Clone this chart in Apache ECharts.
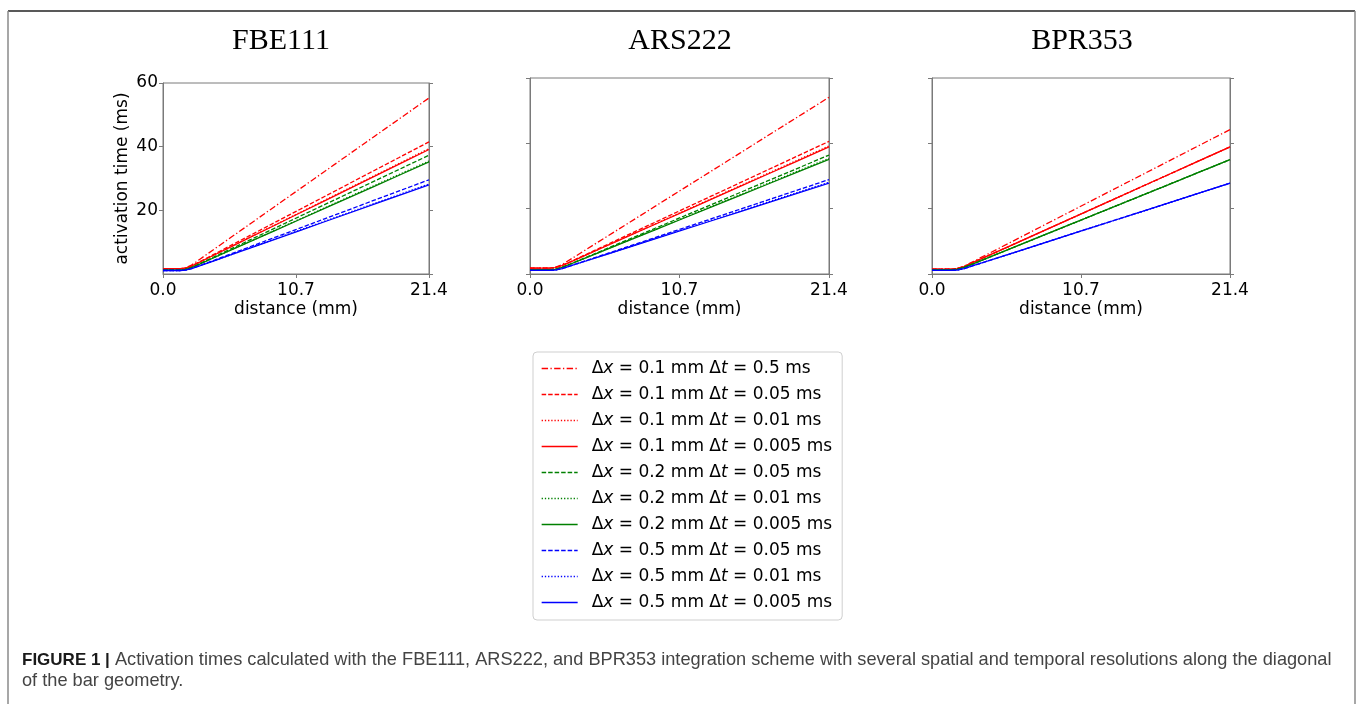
<!DOCTYPE html>
<html>
<head>
<meta charset="utf-8">
<script src="https://cdn.jsdelivr.net/npm/echarts@6/dist/echarts.min.js"></script>
<style>
html,body{margin:0;padding:0;background:#fff;}
#chart{width:1358px;height:704px;}
</style>
</head>
<body>
<div id="chart"></div>
<script>
// ---------- DATA ----------
const panelTitles = ['FBE111', 'ARS222', 'BPR353'];
const distance = [0, 1.4, 1.8, 2.3, 3.0, 4.0, 5.5, 7.0, 9.0, 11.0, 13.0, 15.0, 17.0, 19.0, 21.4];
const xTicks = [0, 10.7, 21.4];
const yTicks = [20, 40, 60];
const seriesNames = [
  'dx0.1_dt0.5', 'dx0.1_dt0.05', 'dx0.1_dt0.01', 'dx0.1_dt0.005',
  'dx0.2_dt0.05', 'dx0.2_dt0.01', 'dx0.2_dt0.005',
  'dx0.5_dt0.05', 'dx0.5_dt0.01', 'dx0.5_dt0.005'
];
const dxLabels = ['0.1', '0.1', '0.1', '0.1', '0.2', '0.2', '0.2', '0.5', '0.5', '0.5'];
const dtLabels = ['0.5', '0.05', '0.01', '0.005', '0.05', '0.01', '0.005', '0.05', '0.01', '0.005'];

// FBE111
const fbe_dx01_dt05   = [1.7, 1.7, 1.92, 2.81, 4.72, 7.47, 11.60, 15.72, 21.22, 26.72, 32.21, 37.71, 43.21, 48.71, 55.3];
const fbe_dx01_dt005  = [1.7, 1.7, 1.86, 2.53, 3.95, 5.99, 9.05, 12.11, 16.19, 20.27, 24.36, 28.44, 32.52, 36.60, 41.5];
const fbe_dx01_dt001  = [1.7, 1.7, 1.85, 2.48, 3.83, 5.76, 8.66, 11.56, 15.42, 19.29, 23.16, 27.02, 30.89, 34.75, 39.4];
const fbe_dx01_dt0005 = [1.7, 1.7, 1.85, 2.48, 3.81, 5.73, 8.60, 11.48, 15.32, 19.15, 22.99, 26.83, 30.66, 34.50, 39.1];
const fbe_dx02_dt005  = [1.3, 1.3, 1.45, 2.05, 3.33, 5.18, 7.95, 10.72, 14.41, 18.10, 21.79, 25.48, 29.17, 32.87, 37.3];
const fbe_dx02_dt001  = [1.3, 1.3, 1.44, 2.01, 3.23, 4.98, 7.61, 10.25, 13.75, 17.26, 20.77, 24.28, 27.79, 31.29, 35.5];
const fbe_dx02_dt0005 = [1.3, 1.3, 1.44, 2.00, 3.21, 4.95, 7.56, 10.16, 13.64, 17.12, 20.59, 24.07, 27.54, 31.02, 35.2];
const fbe_dx05_dt005  = [1.1, 1.1, 1.22, 1.69, 2.71, 4.17, 6.36, 8.56, 11.48, 14.40, 17.33, 20.25, 23.18, 26.10, 29.6];
const fbe_dx05_dt001  = [1.1, 1.1, 1.21, 1.67, 2.63, 4.03, 6.12, 8.21, 11.00, 13.79, 16.58, 19.37, 22.16, 24.95, 28.3];
const fbe_dx05_dt0005 = [1.1, 1.1, 1.21, 1.66, 2.62, 4.00, 6.06, 8.13, 10.89, 13.65, 16.41, 19.16, 21.92, 24.68, 28.0];

// ARS222
const ars_dx01_dt05   = [1.8, 1.8, 2.01, 2.89, 4.75, 7.43, 11.46, 15.48, 20.84, 26.21, 31.57, 36.93, 42.30, 47.66, 54.1];
const ars_dx01_dt005  = [1.8, 1.8, 1.96, 2.61, 3.99, 5.98, 8.96, 11.95, 15.93, 19.91, 23.89, 27.87, 31.85, 35.83, 40.6];
const ars_dx01_dt001  = [1.8, 1.8, 1.95, 2.58, 3.91, 5.83, 8.70, 11.58, 15.42, 19.25, 23.09, 26.93, 30.76, 34.60, 39.2];
const ars_dx01_dt0005 = [1.8, 1.8, 1.95, 2.57, 3.89, 5.80, 8.65, 11.51, 15.31, 19.12, 22.92, 26.73, 30.54, 34.34, 38.9];
const ars_dx02_dt005  = [1.3, 1.3, 1.44, 2.03, 3.28, 5.08, 7.78, 10.48, 14.08, 17.68, 21.28, 24.88, 28.48, 32.08, 36.4];
const ars_dx02_dt001  = [1.3, 1.3, 1.44, 2.01, 3.22, 4.97, 7.60, 10.22, 13.72, 17.22, 20.71, 24.21, 27.71, 31.21, 35.4];
const ars_dx02_dt0005 = [1.3, 1.3, 1.44, 2.00, 3.21, 4.94, 7.54, 10.14, 13.60, 17.07, 20.54, 24.00, 27.47, 30.93, 35.1];
const ars_dx05_dt005  = [1.1, 1.1, 1.21, 1.68, 2.67, 4.10, 6.23, 8.37, 11.22, 14.08, 16.93, 19.78, 22.63, 25.48, 28.9];
const ars_dx05_dt001  = [1.1, 1.1, 1.21, 1.66, 2.62, 4.01, 6.09, 8.16, 10.93, 13.70, 16.47, 19.24, 22.01, 24.78, 28.1];
const ars_dx05_dt0005 = [1.1, 1.1, 1.21, 1.65, 2.61, 3.98, 6.03, 8.08, 10.82, 13.56, 16.30, 19.03, 21.77, 24.51, 27.8];

// BPR353 (finer time steps coincide)
const bpr_dx01_dt05   = [1.5, 1.5, 1.68, 2.39, 3.91, 6.10, 9.38, 12.67, 17.05, 21.43, 25.81, 30.19, 34.57, 38.95, 44.2];
const bpr_dx01_dt005  = [1.5, 1.5, 1.65, 2.28, 3.61, 5.53, 8.40, 11.28, 15.12, 18.95, 22.79, 26.63, 30.46, 34.30, 38.9];
const bpr_dx01_dt001  = [1.5, 1.5, 1.65, 2.28, 3.61, 5.53, 8.40, 11.28, 15.12, 18.95, 22.79, 26.63, 30.46, 34.30, 38.9];
const bpr_dx01_dt0005 = [1.5, 1.5, 1.65, 2.28, 3.61, 5.53, 8.40, 11.28, 15.12, 18.95, 22.79, 26.63, 30.46, 34.30, 38.9];
const bpr_dx02_dt005  = [1.3, 1.3, 1.44, 2.00, 3.20, 4.93, 7.52, 10.11, 13.57, 17.02, 20.48, 23.94, 27.39, 30.85, 35.0];
const bpr_dx02_dt001  = [1.3, 1.3, 1.44, 2.00, 3.20, 4.93, 7.52, 10.11, 13.57, 17.02, 20.48, 23.94, 27.39, 30.85, 35.0];
const bpr_dx02_dt0005 = [1.3, 1.3, 1.44, 2.00, 3.20, 4.93, 7.52, 10.11, 13.57, 17.02, 20.48, 23.94, 27.39, 30.85, 35.0];
const bpr_dx05_dt005  = [1.1, 1.1, 1.21, 1.65, 2.61, 3.98, 6.03, 8.08, 10.82, 13.56, 16.30, 19.03, 21.77, 24.51, 27.8];
const bpr_dx05_dt001  = [1.1, 1.1, 1.21, 1.65, 2.61, 3.98, 6.03, 8.08, 10.82, 13.56, 16.30, 19.03, 21.77, 24.51, 27.8];
const bpr_dx05_dt0005 = [1.1, 1.1, 1.21, 1.65, 2.61, 3.98, 6.03, 8.08, 10.82, 13.56, 16.30, 19.03, 21.77, 24.51, 27.8];

const captionBold = 'FIGURE 1 |';
const captionText = ' Activation times calculated with the FBE111, ARS222, and BPR353 integration scheme with several spatial and temporal resolutions along the diagonal';
const captionText2 = 'of the bar geometry.';

// ---------- STYLE ----------
const panelData = [
  [fbe_dx01_dt05, fbe_dx01_dt005, fbe_dx01_dt001, fbe_dx01_dt0005, fbe_dx02_dt005, fbe_dx02_dt001, fbe_dx02_dt0005, fbe_dx05_dt005, fbe_dx05_dt001, fbe_dx05_dt0005],
  [ars_dx01_dt05, ars_dx01_dt005, ars_dx01_dt001, ars_dx01_dt0005, ars_dx02_dt005, ars_dx02_dt001, ars_dx02_dt0005, ars_dx05_dt005, ars_dx05_dt001, ars_dx05_dt0005],
  [bpr_dx01_dt05, bpr_dx01_dt005, bpr_dx01_dt001, bpr_dx01_dt0005, bpr_dx02_dt005, bpr_dx02_dt001, bpr_dx02_dt0005, bpr_dx05_dt005, bpr_dx05_dt001, bpr_dx05_dt0005]
];
const colors = ['#ff0000','#ff0000','#ff0000','#ff0000','#008000','#008000','#008000','#0000ff','#0000ff','#0000ff'];
const DASHDOT = [6.4, 2.4, 1.3, 2.4], DASHED = [4.5, 2], DOTTED = [1.3, 1.9];
const dashes = [DASHDOT, DASHED, DOTTED, 'solid', DASHED, DOTTED, 'solid', DASHED, DOTTED, 'solid'];

const grids = [
  {left: 163, top: 83, width: 266, height: 191},
  {left: 530, top: 78, width: 299, height: 196},
  {left: 932, top: 78, width: 298, height: 196}
];
const titleCenters = [281, 680, 1082];
const FONT = 'DejaVu Sans';
const AX = '#7a7a7a';

const option = {
  animation: false,
  backgroundColor: '#ffffff',
  title: panelTitles.map((t, i) => ({
    text: t,
    left: titleCenters[i],
    top: 26,
    textAlign: 'center',
    padding: 0,
    textStyle: {fontFamily: 'Liberation Serif', fontSize: 30, fontWeight: 'normal', color: '#000'}
  })),
  grid: grids.map(g => Object.assign({show: true, borderColor: AX, borderWidth: 1, backgroundColor: 'transparent'}, g)),
  xAxis: grids.map((g, i) => ({
    type: 'value', gridIndex: i, min: xTicks[0], max: xTicks[2], interval: xTicks[1] - xTicks[0],
    axisLine: {show: true, lineStyle: {color: AX, width: 1}},
    axisTick: {show: true, inside: false, length: 4, lineStyle: {color: AX}},
    splitLine: {show: false},
    axisLabel: {fontFamily: FONT, fontSize: 17, color: '#000', margin: 8, formatter: v => v.toFixed(1)},
    name: 'distance (mm)', nameLocation: 'middle', nameGap: 27,
    nameTextStyle: {fontFamily: FONT, fontSize: 17, color: '#000'}
  })),
  yAxis: [].concat(...grids.map((g, i) => [
    {
      type: 'value', gridIndex: i, min: 0, max: yTicks[2], interval: yTicks[0],
      position: 'left',
      axisLine: {show: true, lineStyle: {color: AX, width: 1}},
      axisTick: {show: true, inside: false, length: 4, lineStyle: {color: AX}},
      splitLine: {show: false},
      axisLabel: {show: i === 0, showMinLabel: false, fontFamily: FONT, fontSize: 17, color: '#000', margin: 5},
      name: i === 0 ? 'activation time (ms)' : '', nameLocation: 'middle', nameGap: 32,
      nameTextStyle: {fontFamily: FONT, fontSize: 17, color: '#000'}
    },
    {
      type: 'value', gridIndex: i, min: 0, max: yTicks[2], interval: yTicks[0],
      position: 'right',
      axisLine: {show: true, lineStyle: {color: AX, width: 1}},
      axisTick: {show: true, inside: false, length: 4, lineStyle: {color: AX}},
      splitLine: {show: false},
      axisLabel: {show: false}
    }
  ])),
  legend: {
    orient: 'vertical', left: 533, top: 352,
    padding: [8, 10, 9, 8],
    itemWidth: 36, itemHeight: 16, itemGap: 9,
    backgroundColor: '#ffffff', borderColor: '#cfcfcf', borderWidth: 1, borderRadius: 4,
    data: seriesNames,
    selectedMode: false,
    itemStyle: {opacity: 0},
    lineStyle: {width: 1.3},
    textStyle: {
      fontFamily: FONT, fontSize: 17, color: '#000', padding: [0, 0, 0, 9],
      rich: {
        n: {fontFamily: FONT, fontSize: 17, color: '#000'},
        i: {fontFamily: FONT, fontSize: 17, color: '#000', fontStyle: 'italic'}
      }
    },
    formatter: name => {
      const k = seriesNames.indexOf(name);
      return '{n|Δ}{i|x}{n| = ' + dxLabels[k] + ' mm Δ}{i|t}{n| = ' + dtLabels[k] + ' ms}';
    }
  },
  series: [].concat(...panelData.map((arrs, p) => arrs.map((arr, k) => ({
    type: 'line', name: seriesNames[k],
    xAxisIndex: p, yAxisIndex: p * 2,
    data: distance.map((d, j) => [d, arr[j]]),
    symbol: 'none', showSymbol: false, smooth: false,
    lineStyle: {color: colors[k], width: 1.3, type: dashes[k]},
    itemStyle: {color: colors[k]},
    emphasis: {disabled: true},
    z: 2 + k
  })))),
  graphic: [
    {type: 'line', shape: {x1: 8, y1: 11, x2: 1355, y2: 11}, style: {stroke: '#222', lineWidth: 1.5}, silent: true},
    {type: 'line', shape: {x1: 8, y1: 11, x2: 8, y2: 704}, style: {stroke: '#8a8a8a', lineWidth: 1.5}, silent: true},
    {type: 'line', shape: {x1: 1355, y1: 11, x2: 1355, y2: 704}, style: {stroke: '#8a8a8a', lineWidth: 1.5}, silent: true},
    {
      type: 'text', left: 22, top: 651, silent: true,
      style: {
        text: '{b|' + captionBold + '}{r|' + captionText + '}\n{r|' + captionText2 + '}',
        fill: '#333',
        rich: {
          b: {fontFamily: 'Liberation Sans', fontSize: 17, fontWeight: 'bold', fill: '#1a1a1a', lineHeight: 21},
          r: {fontFamily: 'Liberation Sans', fontSize: 18.2, fill: '#444', lineHeight: 21}
        }
      }
    }
  ]
};

const chart = echarts.init(document.getElementById('chart'), null, {renderer: 'canvas'});
chart.setOption(option);
</script>
</body>
</html>
